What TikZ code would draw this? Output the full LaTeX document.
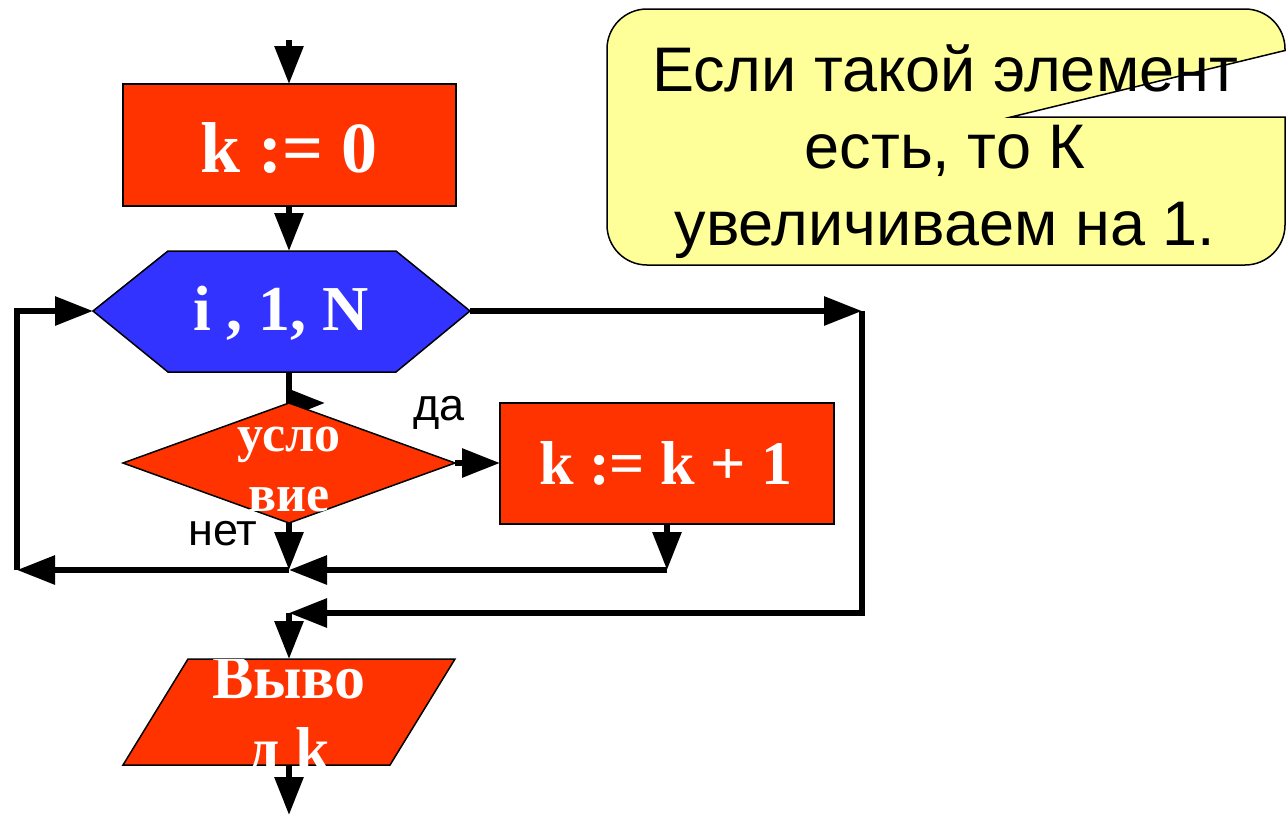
\documentclass[tikz,border=0pt]{standalone}
\usepackage{fontspec}
\setmainfont{Liberation Serif}
\newfontfamily\arialfont{Liberation Sans}
\usetikzlibrary{arrows.meta}
\pgfdeclarelayer{bg}
\pgfsetlayers{bg,main}
\definecolor{fred}{HTML}{FF3300}
\definecolor{fblue}{HTML}{3333FF}
\definecolor{fyel}{HTML}{FFFF99}
\tikzset{
  arr/.style={line width=6pt,-{Triangle[length=38pt,width=28pt]}},
  shp/.style={draw=black,line width=1.5pt},
  btxt/.style={text=white,inner sep=0pt,align=center,font=\bfseries\fontsize{#1}{#1}\selectfont},
  lbl/.style={text=black,inner sep=0pt,font=\arialfont\fontsize{45}{45}\selectfont},
}
\begin{document}
\begin{tikzpicture}[x=1pt,y=-1pt]
\useasboundingbox (0,0) rectangle (1286,820);
% callout
\draw[shp,fill=fyel,rounded corners=40pt] (607,9) rectangle (1285,265);
\fill[white] (1011,117) -- (1287,50) -- (1287,117) -- cycle;
\draw[line width=1.5pt] (1287,50) -- (1011,117) -- (1287,117);
\node[inner sep=0pt,align=center,font=\arialfont\fontsize{63}{77}\selectfont] (note) at (945,152)
  {Если такой элемент\\есть, то К\\увеличиваем на 1.};
% shapes
\draw[shp,fill=fred] (123,84) rectangle (456,206);
\coordinate (b1n) at (289,84);
\coordinate (b1s) at (289,206);
\node[btxt=72] (b1) at (289,148) {k := 0};
\draw[shp,fill=fblue] (93,311) -- (168,251) -- (396,251) -- (470,311) -- (396,372) -- (168,372) -- cycle;
\coordinate (hw) at (93,311);
\coordinate (he) at (470,311);
\coordinate (hs) at (289,372);
\coordinate (hn) at (289,251);
\node[btxt=64] (hx) at (281,313) {i , 1, N};
\draw[shp,fill=fred] (123,463) -- (289,403) -- (455,463) -- (289,523) -- cycle;
\coordinate (dn) at (289,403);
\coordinate (de) at (455,463);
\coordinate (ds) at (289,523);
\node[btxt=52,font=\bfseries\fontsize{52}{60}\selectfont] (cond) at (289,469) {усло\\вие};
\draw[shp,fill=fred] (500,403) rectangle (834,524);
\coordinate (b2w) at (500,463);
\coordinate (b2s) at (667,524);
\node[btxt=62] (b2) at (666,463) {k := k + 1};
\draw[shp,fill=fred] (188,659) -- (455,659) -- (390,765) -- (123,765) -- cycle;
\coordinate (pn) at (289,659);
\coordinate (ps) at (289,765);
\begin{scope}
\clip (188,659) -- (455,659) -- (390,765) -- (123,765) -- cycle;
\node[btxt=62,font=\bfseries\fontsize{62}{72}\selectfont] (out) at (289,720) {Выво\\д k};
\end{scope}
% labels
\node[lbl] (yes) at (439,413) {да};
\node[lbl] (no) at (223,534) {нет};
% connectors
\coordinate (top) at (289,40);
\coordinate (bot) at (289,815);
\coordinate (j1) at (289,570);
\coordinate (j2) at (667,570);
\coordinate (lb) at (17,570);
\coordinate (lt) at (17,311);
\coordinate (rt) at (862,311);
\coordinate (rb) at (862,613);
\coordinate (j3) at (289,613);
\coordinate (da) at (325,403);
\begin{pgfonlayer}{bg}
\draw[arr] (hs) -- (dn) -- (da);
\end{pgfonlayer}
\draw[arr] (top) -- (b1n);
\draw[arr] (b1s) -- (hn);
\draw[arr] (he) -- (rt);
\draw[arr] (rt) -- (rb) -- (j3);
\draw[arr] (j1) -- (lb);
\draw[arr] (lb) -- (lt) -- (hw);
\draw[arr] (de) -- (b2w);
\draw[arr] (b2s) -- (j2);
\draw[arr] (j2) -- (j1);
\draw[arr] (ds) -- (j1);
\draw[arr] (j3) -- (pn);
\draw[arr] (ps) -- (bot);
\end{tikzpicture}
\end{document}
